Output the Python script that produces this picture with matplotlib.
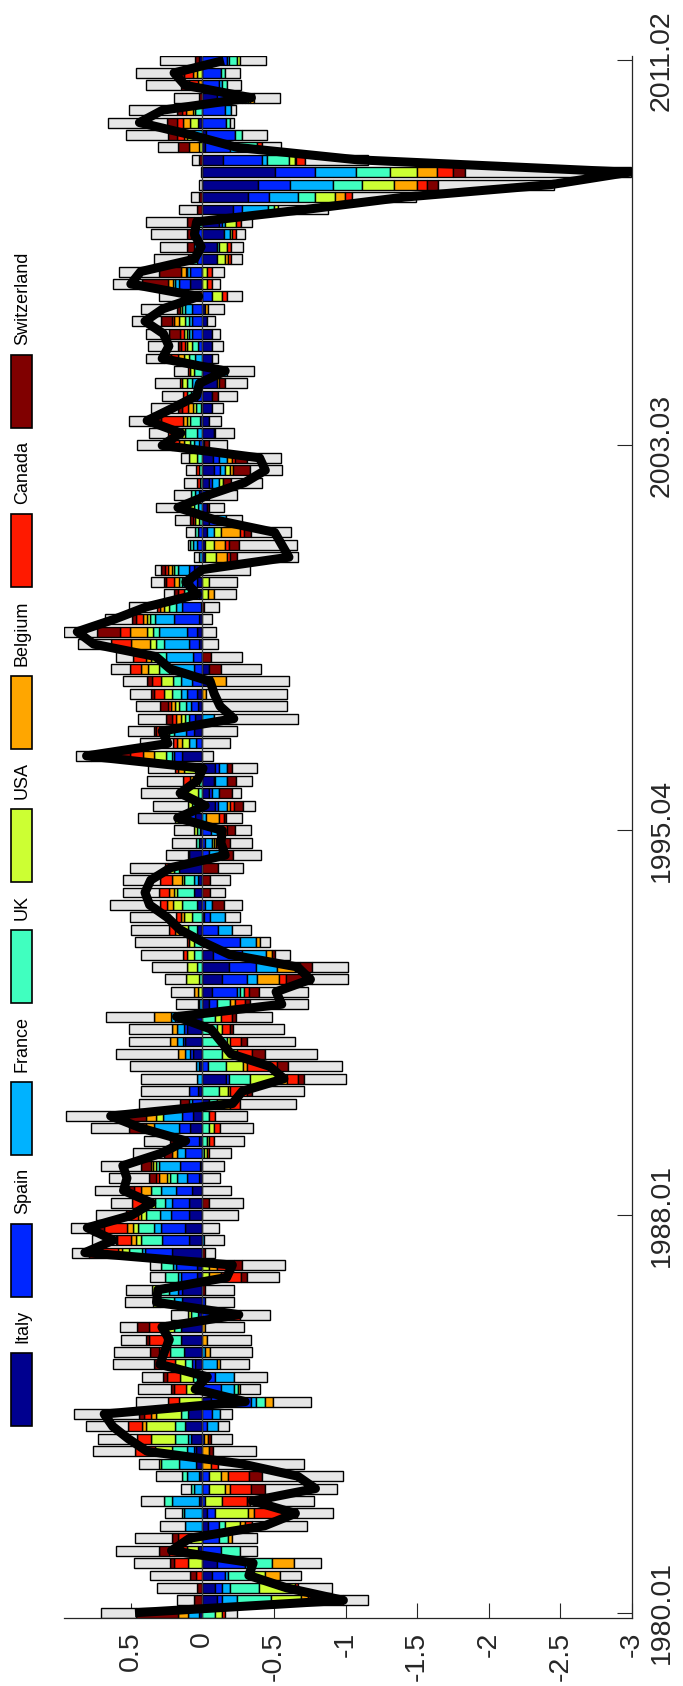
import matplotlib
matplotlib.use("Agg")
import matplotlib.pyplot as plt
from matplotlib.patches import Rectangle
import numpy as np

plt.rcParams['font.family'] = ['Liberation Sans', 'DejaVu Sans']

# ---------------- data (quarterly, 1980.01 .. 2011.02) ----------------
tick_pos = [0, 32, 63, 94, 125]
tick_labels = ['1980.01', '1988.01', '1995.04', '2003.03', '2011.02']
value_ticks = [0.5, 0, -0.5, -1, -1.5, -2, -2.5, -3]
value_tick_labels = ['0.5', '0', '-0.5', '-1', '-1.5', '-2', '-2.5', '-3']

countries = ['Italy', 'Spain', 'France', 'UK', 'USA', 'Belgium', 'Canada', 'Switzerland']

IT = [.02,-.10,-.09,-.07,-.10,.03,0,-.04,-.03,.02,
      0,.02,.045,.045,.08,.12,.10,-.06,.05,.04,
      .05,.125,.15,.15,.03,.145,.14,.04,.04,.215,
      .09,.12,.09,.09,.07,.02,.015,0,.02,.085,
      .065,-.05,.03,-.165,.025,.065,.12,.11,.17,-.05,
      -.07,-.14,-.185,-.075,0,.04,-.015,.04,.06,.03,
      .16,.09,.02,.015,.05,-.09,-.045,-.08,-.09,.14,
      0,.055,.05,.03,.04,-.07,-.05,0,.02,.04,
      .02,.01,.02,.04,.06,-.02,-.02,-.03,-.05,-.03,
      .02,-.05,-.085,-.075,-.01,-.08,-.045,-.07,-.065,-.10,
      -.08,-.07,-.07,-.07,-.035,-.02,0,.085,0,-.10,
      -.10,-.15,-.12,-.217,-.32,-.386,-.51,-.147,-.02,-.025,
      .03,0,-.10,0,0,.02]
ES = [0,-.035,-.05,-.085,-.20,-.13,-.12,-.08,-.06,-.02,
      -.05,-.05,0,.015,-.01,-.03,-.07,-.28,-.13,-.09,
      .02,0,0,0,-.06,-.02,.03,.11,.145,.185,
      .19,.17,.13,.12,.115,.09,.14,.12,.10,.08,
      .08,.07,.06,-.02,-.04,.02,.015,.015,.02,-.05,
      -.17,-.17,-.19,-.20,-.26,-.11,-.04,-.02,0,0,
      0,-.05,-.02,-.06,.06,-.02,-.02,-.01,-.03,.055,
      .045,.06,.04,.05,.065,.07,.06,.065,.075,.07,
      .175,.13,.04,.03,.035,0,.04,.03,-.05,0,
      -.05,-.02,-.04,-.04,.02,0,.015,0,.04,.03,
      -.05,0,.03,.07,.07,.07,-.07,.077,.085,.04,
      .03,.04,-.02,-.058,-.146,-.229,-.28,-.273,-.17,-.20,
      -.165,-.16,-.18,-.12,-.13,-.17]
FR = [.08,-.105,-.05,-.025,-.05,0,0,.12,.13,.19,
      .06,.09,.12,.05,.02,-.08,-.055,-.035,-.09,-.13,
      -.10,-.02,0,0,-.05,.05,.06,.02,.02,.02,
      -.015,.05,.075,.05,.105,.065,.15,.06,.06,.175,
      .13,.02,0,.04,.02,.035,.04,.055,.03,.02,
      -.02,-.075,-.15,-.17,-.115,-.095,-.105,-.05,0,.03,
      0,-.07,-.045,-.04,-.025,-.06,-.055,-.08,-.055,.015,
      .05,.08,-.08,.035,.047,.08,.175,.19,.17,.19,
      .135,.045,.04,.07,.075,.02,.025,-.055,-.065,.03,
      .03,-.045,-.03,-.06,.035,.04,0,.01,.04,.04,
      -.04,.05,0,.02,.02,.05,0,.03,.02,0,
      .025,-.04,-.015,-.185,-.204,-.298,-.284,-.035,-.06,.056,
      0,-.04,-.02,-.02,0,-.015]
UK = [-.09,-.24,-.205,-.18,-.14,-.13,-.06,-.04,.01,.06,
      .02,.035,.12,.10,.09,.07,.05,-.065,-.03,.025,
      .05,.10,.08,.05,.05,.10,.08,.09,.08,.09,
      .15,.11,.10,.07,.07,.05,.02,-.01,-.035,-.05,
      -.045,-.05,-.12,-.145,-.125,-.14,-.17,-.10,-.09,-.09,
      -.03,.02,.04,.055,.06,.06,.07,.105,.115,.07,
      .04,.01,.025,.025,.06,.07,.03,.02,.05,.045,
      0,.04,.03,.045,.058,.053,.065,.07,.06,.042,
      .035,.05,.03,.02,.025,0,.018,.02,.02,.025,
      .03,.015,.02,.04,.03,.08,.07,.035,.03,.04,
      .06,.04,.045,.02,.03,.02,0,.015,.01,.03,
      -.02,0,.03,-.04,-.12,-.204,-.236,-.147,-.13,-.05,
      -.025,.05,-.02,-.035,-.025,-.055]
US = [-.05,-.21,-.25,-.08,.10,.08,.08,-.10,-.23,-.12,
      -.11,-.08,.015,.12,.165,.20,.175,.165,.065,.09,
      .07,0,.04,.05,.02,.05,.04,-.05,-.05,.05,
      .03,.035,.03,.03,0,.02,.02,-.025,-.012,-.03,
      .05,-.05,-.06,-.22,-.12,-.10,-.02,-.035,-.04,.01,
      .03,.095,.07,.055,.03,.06,.06,.063,.02,.015,
      .04,-.02,-.015,.02,.02,.03,.08,.045,.08,.08,
      .05,.03,.03,.03,.06,.085,.077,.03,.04,.047,
      .02,.03,-.04,-.05,.02,-.075,-.065,-.045,.03,.04,
      0,-.03,-.035,.05,.04,.02,.025,.02,0,.03,
      .025,.04,.03,.02,.045,.015,-.065,-.03,-.03,-.06,
      -.05,-.02,-.08,-.03,-.138,-.222,-.187,-.047,.02,.05,
      .054,.015,-.01,0,.04,-.025]
BE = [.07,-.05,0,-.10,-.15,0,-.025,-.035,-.04,0,
      -.03,-.05,-.06,-.045,-.03,.03,.03,-.055,-.01,0,
      -.025,-.035,-.03,-.02,-.05,0,0,-.08,-.05,.03,
      .035,.04,.025,.03,.07,.055,.01,.03,0,.05,
      .07,-.04,-.01,-.04,-.03,.05,.05,.03,.12,-.035,
      .025,-.15,-.12,-.04,-.025,.03,.02,.035,.04,.07,
      0,0,-.015,-.04,-.09,-.02,.03,.02,.04,.08,
      .035,.04,.035,.026,-.025,-.095,.05,.04,.13,.117,
      .03,.03,-.04,.04,.025,-.08,-.075,-.13,0,.04,
      0,0,-.025,-.035,.04,.05,.028,.035,0,-.02,
      0,.04,.015,0,.03,-.02,0,.035,.035,-.02,
      0,.04,.025,0,-.067,-.158,-.14,-.005,.075,.02,
      .05,.05,-.03,.03,.025,0]
CA = [-.02,-.24,-.02,.045,.095,.12,.09,-.05,-.30,-.17,
      -.15,-.145,-.05,.14,.10,.10,.055,.075,.08,.09,
      .10,.08,.10,.125,-.10,0,0,-.14,-.12,.20,
      .10,.16,.05,.10,.05,.025,0,-.01,-.035,-.045,
      -.045,-.07,-.12,-.08,-.21,-.11,-.08,-.055,-.075,-.07,
      -.035,-.05,-.04,.025,.02,.04,.035,.05,.07,.08,
      .02,0,0,-.03,-.035,-.03,.03,.05,.02,.09,
      .025,.02,.03,.02,.07,.065,.08,.09,.14,.07,
      .05,.02,.04,.05,.02,-.02,-.028,-.03,.015,.04,
      0,.02,.025,-.02,.05,.05,.15,.045,.025,.015,
      .015,.05,.03,.025,.02,0,-.04,-.035,-.04,-.02,
      -.03,-.025,-.035,0,-.049,-.07,-.113,-.065,-.035,.05,
      .04,.03,0,.06,.06,0]
CH = [.29,.06,.04,.04,.03,.07,.04,0,0,-.02,
      -.10,-.09,0,-.03,-.02,0,.03,0,.025,.03,
      .045,.06,.02,.08,0,0,-.02,-.045,-.055,-.02,
      .01,.08,.03,-.05,.03,.045,.07,.06,.045,.12,
      .25,.065,-.04,-.04,-.075,-.09,-.045,-.025,-.03,-.035,
      -.07,-.18,-.08,-.02,0,0,0,-.08,-.055,-.055,
      -.11,-.075,-.10,-.06,-.018,-.065,-.09,-.065,-.03,.27,
      0,.015,.035,.06,.02,.03,-.08,-.06,0,.16,
      .025,-.015,.03,.02,.03,-.05,-.07,-.05,.02,-.02,
      0,-.055,-.12,-.08,-.035,-.01,.035,.025,-.045,-.035,
      0,.05,.02,.08,.07,.025,.02,.18,.15,.03,
      .05,.025,.055,.035,.02,-.076,-.082,.025,.072,.065,
      .075,.035,.02,.06,.035,.03]
OTHER_POS = [.25,.115,.275,.28,.25,.30,.263,.175,.12,.16,
      .07,.175,.14,.29,.27,.29,.455,.22,.23,.145,
      .285,.25,.18,.117,.12,.195,.18,.105,.08,.12,
      .165,.155,.215,.15,.24,.28,.28,.217,.183,.265,
      .31,.29,.34,.39,.46,.43,.29,.30,.33,.155,
      .165,.145,.24,.29,.36,.265,.32,.35,.25,.26,
      .245,.15,.17,.14,.26,.245,.255,.25,.19,.11,
      .23,.18,.20,.17,.147,.17,.127,.12,.235,.23,
      .19,.195,.07,.085,.04,.04,.02,.065,.105,.145,
      .12,.09,.07,.06,.24,.13,.19,.185,.145,.175,
      .10,.12,.21,.16,.205,.245,.28,.20,.28,.235,
      .19,.25,.28,.125,.056,.02,.01,.05,.14,.29,
      .41,.33,.18,.24,.30,.245]
OTHER_NEG = [-.08,-.18,-.24,-.15,-.19,-.125,-.18,-.385,-.25,-.45,
      -.50,-.57,-.60,-.30,-.15,-.075,-.085,-.265,-.14,-.235,
      -.20,-.295,-.31,-.27,-.215,-.20,-.20,-.22,-.30,-.07,
      -.135,-.117,-.25,-.237,-.20,-.124,-.15,-.155,-.21,-.23,
      -.225,-.395,-.36,-.29,-.375,-.36,-.33,-.355,-.255,-.41,
      -.34,-.25,-.25,-.11,-.075,-.135,-.10,-.125,-.10,-.14,
      -.175,-.195,-.15,-.11,-.11,-.08,-.06,-.115,-.18,-.077,
      -.195,-.24,-.59,-.59,-.565,-.443,-.28,-.22,-.112,-.093,
      -.065,-.105,-.155,-.19,-.33,-.42,-.40,-.28,-.115,-.10,
      -.19,-.22,-.22,-.24,-.13,-.13,-.083,-.077,-.13,-.155,
      -.19,-.04,-.077,-.053,-.055,-.11,-.10,-.058,-.08,-.08,
      -.087,-.065,-.08,-.35,-.446,-.81,-1.16,-.44,-.135,-.18,
      -.03,-.033,-.183,-.095,-.108,-.18]

colors = ['#00008f', '#0026ff', '#00b2ff', '#40ffbf', '#ccff33',
          '#ffa600', '#ff1a00', '#800000']
gray = '#e6e6e6'

series = [IT, ES, FR, UK, US, BE, CA, CH, OTHER_POS, OTHER_NEG]
series_colors = colors + [gray, gray]

data = np.array(series, dtype=float)
n = data.shape[1]
idx = np.arange(n)
total = data.sum(axis=0)
pos_max = np.clip(data, 0, None).sum(axis=0).max()

# ---------------- figure layout ----------------
W, H = 683, 1686
fig = plt.figure(figsize=(W / 100, H / 100), dpi=100)
zero_px, right_px = 202.3, 632.0
scale = (right_px - zero_px) / 3.0
left_px = zero_px - pos_max * scale
top_px, bot_px = 55.5, 1617.7
ax = fig.add_axes([left_px / W, 1 - bot_px / H, (right_px - left_px) / W, (bot_px - top_px) / H])

pos_cum = np.zeros(n)
neg_cum = np.zeros(n)
for vals, col in zip(data, series_colors):
    lefts = np.where(vals >= 0, pos_cum, neg_cum)
    m = vals != 0
    ax.barh(idx[m], vals[m], left=lefts[m], height=0.8, color=col,
            edgecolor='black', linewidth=1.0, zorder=2)
    pos_cum += np.clip(vals, 0, None)
    neg_cum += np.clip(vals, None, 0)

ax.axvline(0, color='#3a3a3a', lw=0.9, zorder=3)
ax.plot(total, idx, color='black', lw=6.5, solid_joinstyle='round',
        solid_capstyle='butt', zorder=4)

ax.set_xlim(pos_max, -3)
ax.set_ylim(-0.4, n - 1 + 0.4)

for side in ['top', 'left']:
    ax.spines[side].set_visible(False)
for side in ['bottom', 'right']:
    ax.spines[side].set_color('#262626')
    ax.spines[side].set_linewidth(0.9)

ax.set_xticks(value_ticks)
ax.set_xticklabels(value_tick_labels, rotation=90, fontsize=20.5, color='#262626')
ax.tick_params(axis='x', direction='in', length=11, width=0.8, pad=10,
               colors='#262626')
ax.yaxis.tick_right()
ax.set_yticks(tick_pos)
ax.set_yticklabels(tick_labels, rotation=90, fontsize=20.5, color='#262626',
                   va='center')
ax.tick_params(axis='y', direction='in', length=11, width=0.8, pad=12,
               colors='#262626', left=False, right=True)

# ---------------- legend (rotated, drawn manually) ----------------
renderer = fig.canvas.get_renderer()
patch_w, patch_h = 21, 73
x_left = 11
y_bottom = 1426.0
for name, col in zip(countries, colors):
    fig.add_artist(Rectangle((x_left / W, 1 - y_bottom / H), patch_w / W, patch_h / H,
                             transform=fig.transFigure, facecolor=col,
                             edgecolor='black', linewidth=1.2))
    ty = y_bottom - patch_h - 10
    t = fig.text((x_left + patch_w / 2 + 1) / W, 1 - ty / H, name, rotation=90,
                 ha='center', va='bottom', fontsize=13, color='black')
    L = t.get_window_extent(renderer=renderer).height
    y_bottom = ty - L - 13

fig.savefig('out.png', dpi=100)
